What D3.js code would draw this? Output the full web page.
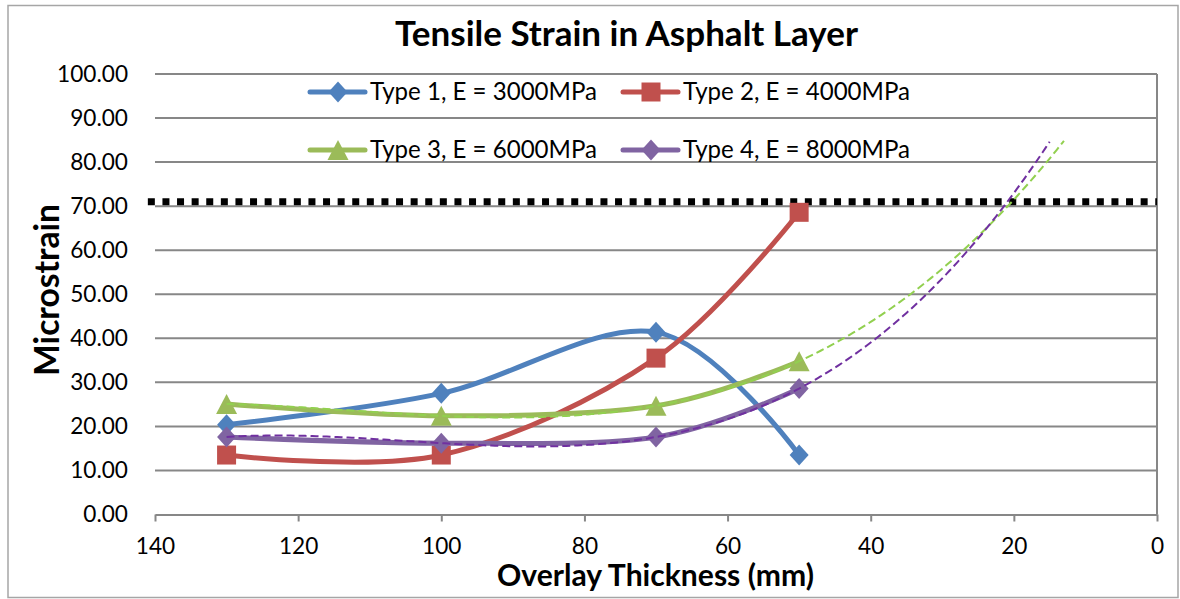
<!DOCTYPE html>
<html>
<head>
<meta charset="utf-8">
<script src="https://cdn.jsdelivr.net/npm/d3@7"></script>
<style>
  html, body { margin: 0; padding: 0; background: #fff; }
  svg { display: block; font-family: Lato, "Open Sans", sans-serif; }
</style>
</head>
<body>
<svg id="chart" width="1180" height="599"></svg>
<script>
// Overlay thickness (mm) for each design case
const thickness = [130, 100, 70, 50];

// Tensile strain (microstrain) at the bottom of the asphalt layer
const type1 = [20.4, 27.5, 41.4, 13.5];
const type2 = [13.5, 13.5, 35.5, 68.6];
const type3 = [25.1, 22.4, 24.7, 34.8];
const type4 = [17.6, 16.2, 17.6, 28.6];

const seriesNames = [
  "Type 1, E = 3000MPa",
  "Type 2, E = 4000MPa",
  "Type 3, E = 6000MPa",
  "Type 4, E = 8000MPa"
];

// Allowable strain limit line
const limitX = [141, 0];
const limitValue = 71;

// Trendline forecast end (mm) for types 3 and 4
const trendEnd3 = 13;
const trendEnd4 = 15;

const xTicks = [140, 120, 100, 80, 60, 40, 20, 0];
const yTicks = [0, 10, 20, 30, 40, 50, 60, 70, 80, 90, 100];

const colors = ["#4F81BD", "#C0504D", "#9BBB59", "#8064A2"];
const markers = ["diamond", "square", "triangle", "diamond"];
const trendColors = { 2: "#92D050", 3: "#7030A0" };

const svg = d3.select("#chart");
const plot = { left: 155, right: 1157, top: 74, bottom: 514.5 };

const x = d3.scaleLinear().domain([140, 0]).range([plot.left, plot.right]);
const y = d3.scaleLinear().domain([0, 100]).range([plot.bottom, plot.top]);

// Scale a text element's font so the string occupies the given width
function fitWidth(sel, width) {
  const w = sel.node().getComputedTextLength();
  const fs = parseFloat(sel.attr("font-size"));
  sel.attr("font-size", (fs * width / w).toFixed(2));
  return fs * width / w;
}

// Outer chart frame
svg.append("rect")
  .attr("x", 8).attr("y", 5.5).attr("width", 1170).attr("height", 592)
  .attr("fill", "#fff").attr("stroke", "#a6a6a6").attr("stroke-width", 1.5);

// Title
const title = svg.append("text")
  .attr("x", 626.5).attr("y", 46)
  .attr("text-anchor", "middle")
  .attr("font-weight", "bold").attr("font-size", 30)
  .text("Tensile Strain in Asphalt Layer");
fitWidth(title, 463);

// Horizontal gridlines
svg.append("g").selectAll("line")
  .data(yTicks.filter(d => d > 0))
  .join("line")
  .attr("x1", plot.left).attr("x2", plot.right)
  .attr("y1", d => y(d)).attr("y2", d => y(d))
  .attr("stroke", "#878787").attr("stroke-width", 2);

// Tick label size taken from the widest value label
const probe = svg.append("text").attr("font-size", 20).text("100.00");
const tickFont = fitWidth(probe, 71);
probe.remove();

// Y axis labels (left side, no axis line)
const yAxis = d3.axisLeft(y).tickValues(yTicks).tickFormat(d3.format(".2f")).tickSize(0).tickPadding(0);
const gy = svg.append("g").attr("transform", `translate(${plot.left - 27},0)`).call(yAxis);
gy.select(".domain").remove();
gy.selectAll("text").attr("font-size", tickFont).attr("fill", "#000")
  .attr("font-family", "Lato, sans-serif");

// X axis along the bottom
const xAxis = d3.axisBottom(x).tickValues(xTicks).tickFormat(d3.format("d")).tickSize(7).tickSizeOuter(0).tickPadding(16);
const gx = svg.append("g").attr("transform", `translate(0,${plot.bottom})`).call(xAxis);
gx.select(".domain").attr("stroke", "#878787").attr("stroke-width", 2);
gx.selectAll(".tick line").attr("stroke", "#878787").attr("stroke-width", 2);
gx.selectAll("text").attr("font-size", tickFont).attr("fill", "#000")
  .attr("font-family", "Lato, sans-serif");

// Vertical axis line at x = 0 (right edge, axis reversed)
svg.append("line")
  .attr("x1", x(0)).attr("x2", x(0))
  .attr("y1", plot.top).attr("y2", plot.bottom)
  .attr("stroke", "#878787").attr("stroke-width", 2);

// Axis titles
const yTitle = svg.append("text")
  .attr("transform", `translate(59,${290}) rotate(-90)`)
  .attr("text-anchor", "middle")
  .attr("font-weight", "bold").attr("font-size", 30)
  .text("Microstrain");
fitWidth(yTitle, 172);

const xTitle = svg.append("text")
  .attr("x", 655.5).attr("y", 586)
  .attr("text-anchor", "middle")
  .attr("font-weight", "bold").attr("font-size", 30)
  .text("Overlay Thickness (mm)");
fitWidth(xTitle, 317);

// Allowable strain limit (dotted)
svg.append("line")
  .attr("x1", x(limitX[0])).attr("x2", x(limitX[1]))
  .attr("y1", y(limitValue)).attr("y2", y(limitValue))
  .attr("stroke", "#000").attr("stroke-width", 7)
  .attr("stroke-dasharray", "7,7.6");

// Marker shapes
function markerPath(kind) {
  if (kind === "diamond") return "M0,-10.5L9.5,0L0,10.5L-9.5,0Z";
  if (kind === "square") return "M-9.5,-9.5H9.5V9.5H-9.5Z";
  return "M0,-10L10.5,10H-10.5Z";
}

const allSeries = [type1, type2, type3, type4];
const line = d3.line()
  .x(d => x(d[0])).y(d => y(d[1]))
  .curve(d3.curveCatmullRom.alpha(0));

allSeries.forEach((vals, i) => {
  const pts = thickness.map((t, j) => [t, vals[j]]);
  svg.append("path")
    .attr("d", line(pts))
    .attr("fill", "none").attr("stroke", colors[i])
    .attr("stroke-width", 5).attr("stroke-linejoin", "round").attr("stroke-linecap", "round");
  svg.append("g").selectAll("path")
    .data(pts).join("path")
    .attr("transform", d => `translate(${x(d[0])},${y(d[1])})`)
    .attr("d", markerPath(markers[i]))
    .attr("fill", colors[i]);
});

// Least-squares polynomial fit (order 3) for trendlines
function polyfit(xs, ys, order) {
  const n = order + 1;
  const A = Array.from({ length: n }, () => new Array(n + 1).fill(0));
  xs.forEach((xv, k) => {
    for (let r = 0; r < n; r++) {
      for (let c = 0; c < n; c++) A[r][c] += Math.pow(xv, r + c);
      A[r][n] += ys[k] * Math.pow(xv, r);
    }
  });
  for (let p = 0; p < n; p++) {
    let m = p;
    for (let r = p + 1; r < n; r++) if (Math.abs(A[r][p]) > Math.abs(A[m][p])) m = r;
    [A[p], A[m]] = [A[m], A[p]];
    for (let r = 0; r < n; r++) {
      if (r === p) continue;
      const f = A[r][p] / A[p][p];
      for (let c = p; c <= n; c++) A[r][c] -= f * A[p][c];
    }
  }
  return A.map((row, r) => row[n] / row[r]);
}

[[2, type3, trendEnd3], [3, type4, trendEnd4]].forEach(([i, vals, endX]) => {
  // centre and scale x for numerical stability
  const xs = thickness.map(t => (t - 90) / 40);
  const coef = polyfit(xs, vals, 3);
  const f = t => { const u = (t - 90) / 40; return coef.reduce((s, c, k) => s + c * Math.pow(u, k), 0); };
  const samples = d3.range(thickness[0], endX - 0.01, -0.5).map(t => [t, f(t)]);
  svg.append("path")
    .attr("d", d3.line().x(d => x(d[0])).y(d => y(d[1]))(samples))
    .attr("fill", "none").attr("stroke", trendColors[i])
    .attr("stroke-width", 2).attr("stroke-dasharray", "8,4");
});

// Legend (two rows, two columns, no background)
const legendPos = [[310, 92], [623, 92], [310, 150], [623, 150]];
const legendProbe = svg.append("text").attr("font-size", 20).text(seriesNames[0]);
const legendFont = fitWidth(legendProbe, 227);
legendProbe.remove();
seriesNames.forEach((name, i) => {
  const [lx, ly] = legendPos[i];
  const g = svg.append("g").attr("transform", `translate(${lx},${ly})`);
  g.append("line").attr("x1", 0).attr("x2", 55).attr("y1", 0).attr("y2", 0)
    .attr("stroke", colors[i]).attr("stroke-width", 5).attr("stroke-linecap", "round");
  g.append("path").attr("transform", "translate(28,0)").attr("d", markerPath(markers[i])).attr("fill", colors[i]);
  g.append("text").attr("x", 60).attr("y", 0).attr("dy", "0.35em")
    .attr("font-size", legendFont).text(name);
});
</script>
</body>
</html>
